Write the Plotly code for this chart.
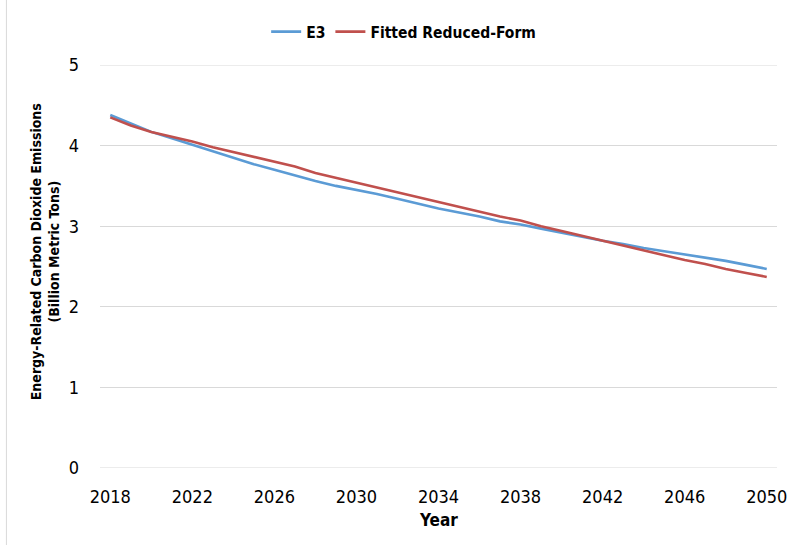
import plotly.graph_objects as go

# Annual energy-related CO2 emissions, billion metric tons
years = list(range(2018, 2051))
e3 = [4.38, 4.27, 4.17, 4.09, 4.01, 3.93, 3.85, 3.77, 3.70, 3.63, 3.56,
      3.50, 3.45, 3.40, 3.34, 3.28, 3.22, 3.17, 3.12, 3.06, 3.02, 2.97,
      2.92, 2.87, 2.82, 2.78, 2.73, 2.69, 2.65, 2.61, 2.57, 2.52, 2.47]
fitted = [4.35, 4.25, 4.17, 4.11, 4.05, 3.98, 3.92, 3.86, 3.80, 3.74, 3.66,
          3.60, 3.54, 3.48, 3.42, 3.36, 3.30, 3.24, 3.18, 3.12, 3.07, 3.00,
          2.94, 2.88, 2.82, 2.76, 2.70, 2.64, 2.58, 2.53, 2.47, 2.42, 2.37]
x_ticks = list(range(2018, 2051, 4))
y_ticks = [0, 1, 2, 3, 4, 5]

FONT = "Liberation Sans Narrow, DejaVu Sans Condensed, Lato, sans-serif"
GRID = "#D9D9D9"

fig = go.Figure()
fig.add_trace(go.Scatter(x=years, y=e3, mode="lines", name="E3",
                         line=dict(color="#5B9BD5", width=2.6)))
fig.add_trace(go.Scatter(x=years, y=fitted, mode="lines", name="Fitted Reduced-Form",
                         line=dict(color="#C0504D", width=2.6)))

L, R, T, B = 100, 19, 65, 77
W, H = 799, 545
pw, ph = W - L - R, H - T - B

# gridlines at the bottom and top of the value range
edge_grid = [dict(type="line", xref="paper", yref="y", x0=0, x1=1, y0=v, y1=v,
                  layer="above", line=dict(color=GRID, width=1))
             for v in (y_ticks[0], y_ticks[-1])]

fig.update_layout(
    width=W, height=H,
    margin=dict(l=L, r=R, t=T, b=B),
    paper_bgcolor="white", plot_bgcolor="white",
    font=dict(family=FONT, size=18, color="#000000"),
    showlegend=True,
    legend=dict(orientation="h", x=(405 - L) / pw, xanchor="center", y=1 + 33 / ph,
                yanchor="middle",
                font=dict(family=FONT, size=15.5, color="#000000", weight="bold"),
                itemwidth=30, tracegroupgap=0, bgcolor="rgba(0,0,0,0)"),
    xaxis=dict(range=[2017.5, 2050.5], tickvals=x_ticks, ticktext=[str(v) for v in x_ticks],
               showgrid=False, zeroline=False, showline=False, ticks="",
               ticklabelstandoff=16, tickfont=dict(size=18)),
    yaxis=dict(range=[0, 5], tickvals=y_ticks, showgrid=True, gridcolor=GRID,
               gridwidth=1, zeroline=False, showline=False, ticks="", ticklabelstandoff=20,
               tickfont=dict(size=18)),
    annotations=[
        dict(text="<b>Energy-Related Carbon Dioxide Emissions<br>(Billion Metric Tons)</b>",
             xref="paper", yref="paper", x=(45 - L) / pw, y=(H - B - 252) / ph,
             textangle=-90, showarrow=False, xanchor="center", yanchor="middle",
             font=dict(family=FONT, size=14)),
        dict(text="<b>Year</b>", xref="paper", yref="paper", x=(440 - L) / pw,
             y=-(520 - (H - B)) / ph, showarrow=False, xanchor="center", yanchor="middle",
             font=dict(family=FONT, size=17)),
    ],
    shapes=edge_grid + [
        dict(type="line", xref="paper", yref="paper", x0=(6 - L) / pw, x1=(6 - L) / pw,
             y0=-B / ph, y1=1 + T / ph, line=dict(color=GRID, width=1)),
    ],
)

fig.write_html("out.html")
